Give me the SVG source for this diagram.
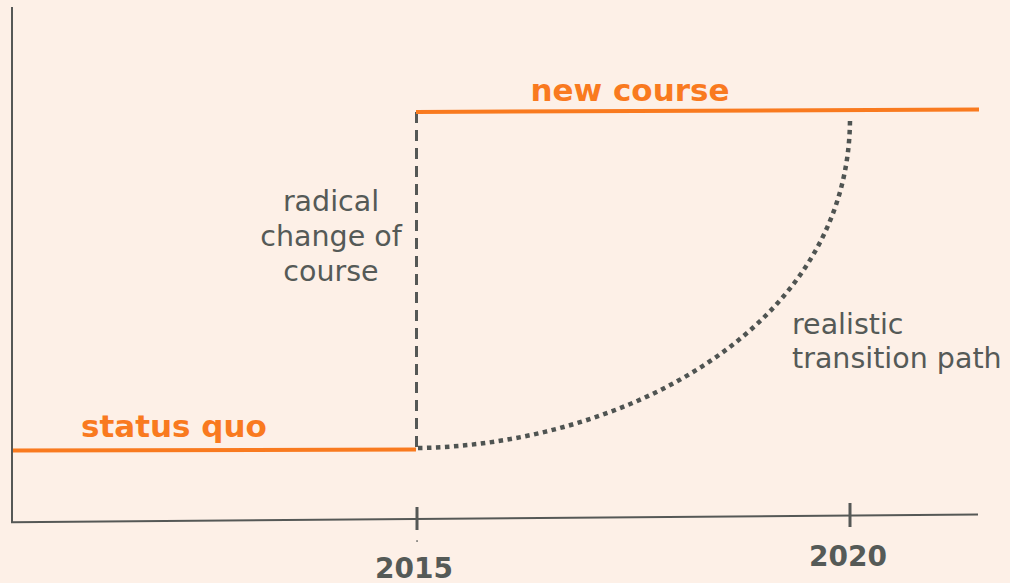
<svg xmlns="http://www.w3.org/2000/svg" width="1010" height="583" viewBox="0 0 1010 583">
<style>
.axis{stroke:#555856;stroke-width:2;fill:none}
.tick{stroke:#555856;stroke-width:3;fill:none}
.orange{stroke:#f97a1f;stroke-width:4;fill:none}
.lbl{font-family:"DejaVu Sans",Verdana,sans-serif;font-size:28.5px;fill:#555a57}
.bold{font-family:"DejaVu Sans",Verdana,sans-serif;font-weight:bold;font-size:31px;fill:#f97a1f}
.year{font-family:"DejaVu Sans",Verdana,sans-serif;font-weight:bold;font-size:28px;fill:#555a57}
</style>
<rect width="1010" height="583" fill="#fdf0e7"/>
<g id="axes">
<line class="axis" x1="12" y1="7" x2="12" y2="522.5"/>
<line class="axis" x1="11" y1="522.3" x2="978" y2="514.5"/>
<line class="tick" x1="417" y1="507" x2="417" y2="530"/>
<line class="tick" x1="850" y1="503" x2="850" y2="527"/>
<rect x="416.3" y="540.3" width="1.5" height="1.5" fill="#555856"/>
</g>
<g id="connectors">
<line id="radical" x1="416.5" y1="112" x2="416.5" y2="449" stroke="#555856" stroke-width="3" stroke-dasharray="11 7"/>
<path id="transition" d="M418,448 C620,445 850,330 850,118" fill="none" stroke="#4f5452" stroke-width="4.5" stroke-dasharray="4.5 4.5"/>
</g>
<g id="status-quo">
<line class="orange" x1="13" y1="450.5" x2="416" y2="449.5"/>
<text class="bold" x="81" y="437">status quo</text>
</g>
<g id="new-course">
<line class="orange" x1="416" y1="112" x2="979" y2="109.5"/>
<text class="bold" x="630" y="101" text-anchor="middle">new course</text>
</g>
<g id="radical-label">
<text class="lbl" text-anchor="middle"><tspan x="331" y="211">radical</tspan><tspan x="331" y="246">change of</tspan><tspan x="331" y="281">course</tspan></text>
</g>
<g id="realistic-label">
<text class="lbl"><tspan x="792" y="334">realistic</tspan><tspan x="792" y="368">transition path</tspan></text>
</g>
<g id="years">
<text class="year" x="414" y="578" text-anchor="middle">2015</text>
<text class="year" x="848" y="566" text-anchor="middle">2020</text>
</g>
</svg>
